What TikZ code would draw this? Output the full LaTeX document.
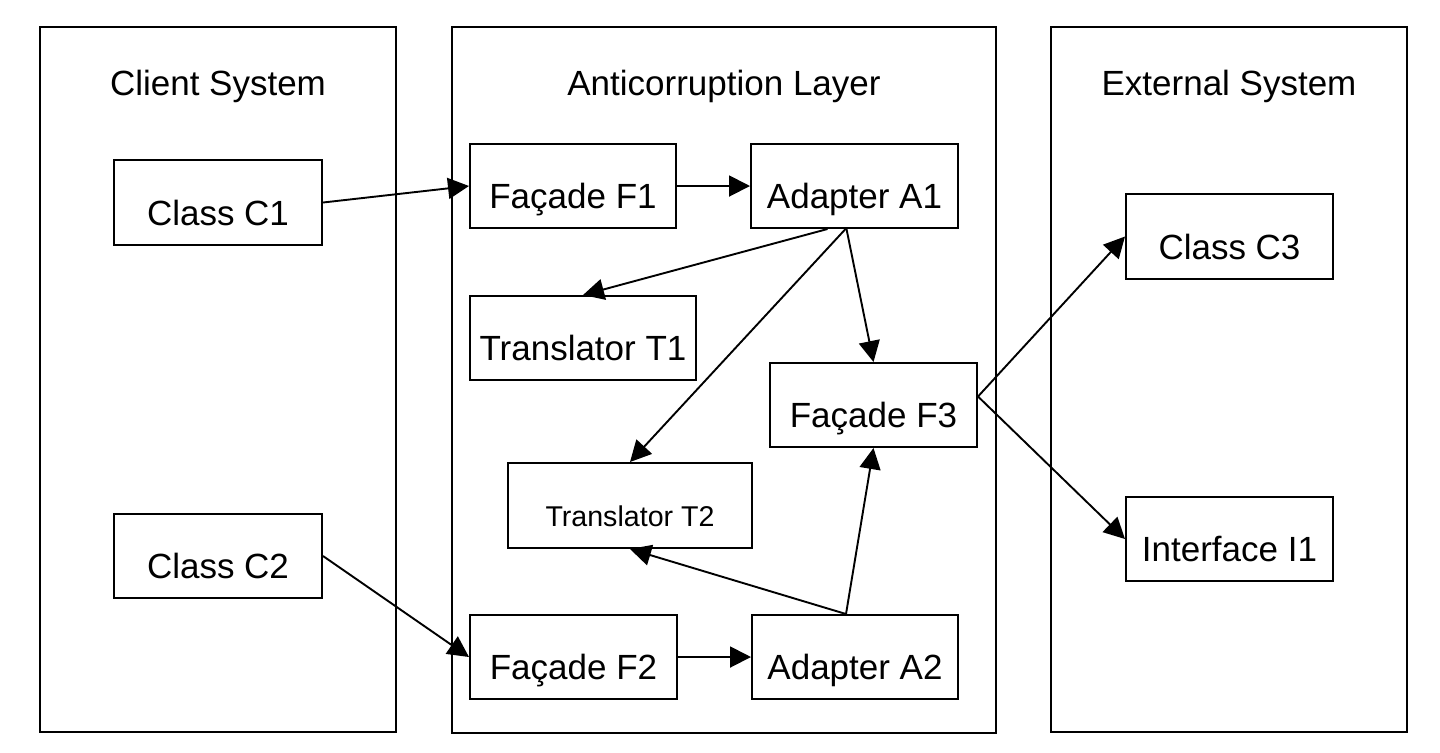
\documentclass[tikz,border=0pt]{standalone}
\usepackage{fontspec}
\setmainfont{Liberation Sans}
\usetikzlibrary{arrows.meta}
\begin{document}
\begin{tikzpicture}[x=0.5pt,y=-0.5pt,
  container/.style={draw, line width=1.1pt, rectangle, inner sep=0pt},
  box/.style={draw, line width=1pt, rectangle, inner sep=0pt,
    minimum height=42pt, font=\fontsize{17.5}{20}\selectfont,
    text height=22.5pt, text depth=0pt},
  smallbox/.style={box, font=\fontsize{14.3}{17}\selectfont, text height=20.7pt},
  title/.style={anchor=base, font=\fontsize{17.5}{20}\selectfont},
  conn/.style={line width=0.95pt, -{Triangle[length=10.5pt,width=10.5pt]}},
]
\useasboundingbox (0,0) rectangle (1440,752);

% containers
\node[container, minimum width=178pt, minimum height=352.5pt] (client) at (218,379.5) {};
\node[container, minimum width=272pt, minimum height=353pt] (acl) at (724,380) {};
\node[container, minimum width=178pt, minimum height=352.5pt] (ext) at (1229,379.5) {};

\node[title] (tclient) at (218,95) {Client System};
\node[title] (tacl) at (724,95) {Anticorruption Layer};
\node[title] (text) at (1229,95) {External System};

% boxes
\node[box, minimum width=104pt, minimum height=42.5pt] (C1) at (218,202.5) {Class C1};
\node[box, minimum width=104pt] (C2) at (218,556) {Class C2};
\node[box, minimum width=103pt] (F1) at (573,186) {Façade F1};
\node[box, minimum width=103.5pt] (A1) at (854.5,186) {Adapter A1};
\node[box, minimum width=113pt] (T1) at (583,338) {Translator T1};
\node[box, minimum width=103.5pt] (F3) at (873.5,405) {Façade F3};
\node[smallbox, minimum width=122pt, minimum height=42.5pt] (T2) at (630,505.5) {Translator T2};
\node[box, minimum width=103.5pt] (F2) at (573.5,657) {Façade F2};
\node[box, minimum width=103pt] (A2) at (855,657) {Adapter A2};
\node[box, minimum width=103.5pt, minimum height=42.5pt] (C3) at (1229.5,236.5) {Class C3};
\node[box, minimum width=103.5pt] (I1) at (1229.5,539) {Interface I1};

% connectors
\draw[conn] (C1.east) -- (F1.west);
\draw[conn] (C2.east) -- (F2.west);
\draw[conn] (F1.east) -- (A1.west);
\draw[conn] (F2.east) -- (A2.west);
\draw[conn] ([xshift=-13.5pt]A1.south) -- (T1.north);
\draw[conn] ([xshift=-4.5pt]A1.south) -- (T2.north);
\draw[conn] ([xshift=-4pt]A1.south) -- (F3.north);
\draw[conn] ([xshift=-4.5pt]A2.north) -- (T2.south);
\draw[conn] ([xshift=-4.5pt]A2.north) -- (F3.south);
\draw[conn] ([yshift=4.25pt]F3.east) -- (C3.west);
\draw[conn] ([yshift=4.25pt]F3.east) -- (I1.west);
\end{tikzpicture}
\end{document}
